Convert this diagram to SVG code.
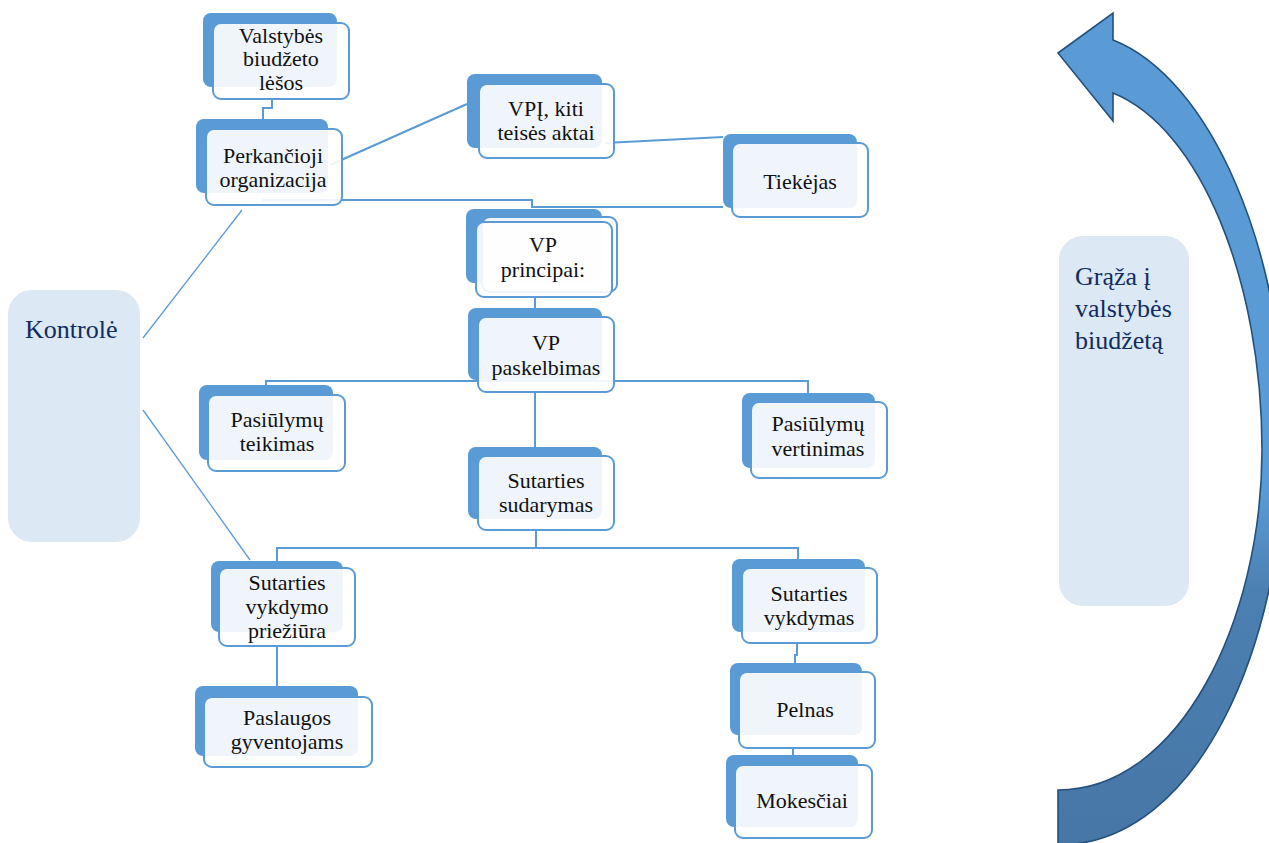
<svg xmlns="http://www.w3.org/2000/svg" width="1269" height="843" viewBox="0 0 1269 843">
  <defs>
    <linearGradient id="arcFill" gradientUnits="userSpaceOnUse" x1="0" y1="0" x2="0" y2="843">
      <stop offset="0" stop-color="#5b9bd5"/>
      <stop offset="0.58" stop-color="#5b9bd5"/>
      <stop offset="0.7" stop-color="#4c80b2"/>
      <stop offset="1" stop-color="#4676a6"/>
    </linearGradient>
    <style>
      .back { fill: #5b9bd5; }
      .front { fill: #ffffff; fill-opacity: 0.9; stroke: #5b9bd5; stroke-width: 2; }
      .lbl { font-size: 22px; fill: #111111; text-anchor: middle; }
      .side { fill: #dde8f5; }
      .sideLbl { font-size: 26px; fill: #102c60; }
      .conn { fill: none; stroke: #5b9bd5; stroke-width: 2; }
      .thin { fill: none; stroke: #5b9bd5; stroke-width: 1.3; }
    </style>
  </defs>
  <rect width="1269" height="843" fill="#ffffff"/>

  <g font-family="'Liberation Serif', 'Times New Roman', serif">

  <!-- return arrow -->
  <g id="return-arrow">
    <path d="M 1058,53 L 1113,13 L 1113,40 C 1210,78 1285,250 1285,440 C 1285,640 1200,845 1058,845 L 1058,790 C 1180,790 1262,620 1262,450 C 1262,280 1200,128 1113,93 L 1113,121 Z" fill="url(#arcFill)" stroke="#24507d" stroke-width="1.6" stroke-linejoin="miter"/>
  </g>

  <g id="kontrole">
    <rect class="side" x="8" y="290" width="132" height="252" rx="24"/>
    <text class="sideLbl" x="25" y="338">Kontrolė</text>
  </g>

  <g id="graza">
    <rect class="side" x="1059" y="236" width="130" height="370" rx="24"/>
    <text class="sideLbl" x="1075" y="285">Grąža į</text>
    <text class="sideLbl" x="1075" y="317">valstybės</text>
    <text class="sideLbl" x="1075" y="349">biudžetą</text>
  </g>

  <!-- connectors, drawn beneath the boxes -->
  <g id="connectors">
    <polyline class="conn" points="272,99 272,108 263,108 263,119"/>
    <line class="conn" x1="330" y1="165" x2="467" y2="104"/>
    <line class="conn" x1="605" y1="143" x2="723" y2="137"/>
    <polyline class="conn" points="262,200 532,200 532,207 723,207"/>
    <line class="conn" x1="535" y1="296" x2="535" y2="309"/>
    <polyline class="conn" points="266,386 266,381 808,381 808,393"/>
    <line class="conn" x1="535" y1="391" x2="535" y2="447"/>
    <polyline class="conn" points="536,530 536,548"/>
    <polyline class="conn" points="277,561 277,548 798,548 798,559"/>
    <line class="conn" x1="277" y1="646" x2="277" y2="686"/>
    <polyline class="conn" points="797,643 797,655 795,655 795,663"/>
    <line class="conn" x1="793" y1="748" x2="793" y2="755"/>
    <line class="thin" x1="143" y1="338" x2="242" y2="210"/>
    <line class="thin" x1="143" y1="410" x2="250" y2="560"/>
  </g>

  <g id="valstybes-lesos">
    <rect class="back" x="203" y="13" width="134" height="74" rx="8"/>
    <rect class="front" x="213" y="23" width="136" height="76" rx="8"/>
    <text class="lbl" x="281" y="43">Valstybės</text>
    <text class="lbl" x="281" y="66">biudžeto</text>
    <text class="lbl" x="281" y="90">lėšos</text>
  </g>

  <g id="perkancioji">
    <rect class="back" x="196" y="119" width="132" height="74" rx="8"/>
    <rect class="front" x="206" y="129" width="136" height="76" rx="8"/>
    <text class="lbl" x="273" y="163">Perkančioji</text>
    <text class="lbl" x="273" y="187">organizacija</text>
  </g>

  <g id="vpi">
    <rect class="back" x="467" y="74" width="135" height="74" rx="8"/>
    <rect class="front" x="479" y="84" width="135" height="74" rx="8"/>
    <text class="lbl" x="546" y="116">VPĮ, kiti</text>
    <text class="lbl" x="546" y="140">teisės aktai</text>
  </g>

  <g id="tiekejas">
    <rect class="back" x="723" y="134" width="134" height="74" rx="8"/>
    <rect class="front" x="732" y="143" width="136" height="74" rx="8"/>
    <text class="lbl" x="800" y="189">Tiekėjas</text>
  </g>

  <g id="vp-principai">
    <rect class="back" x="466" y="209" width="136" height="74" rx="8"/>
    <rect class="front" x="482" y="217" width="135" height="75" rx="8"/>
    <rect class="front" x="476" y="222" width="136" height="75" rx="8"/>
    <text class="lbl" x="543" y="252">VP</text>
    <text class="lbl" x="543" y="277">principai:</text>
  </g>

  <g id="vp-paskelbimas">
    <rect class="back" x="468" y="308" width="134" height="72" rx="8"/>
    <rect class="front" x="478" y="317" width="136" height="75" rx="8"/>
    <text class="lbl" x="546" y="350">VP</text>
    <text class="lbl" x="546" y="375">paskelbimas</text>
  </g>

  <g id="pasiulymu-teikimas">
    <rect class="back" x="199" y="385" width="134" height="75" rx="8"/>
    <rect class="front" x="208" y="395" width="137" height="76" rx="8"/>
    <text class="lbl" x="277" y="427">Pasiūlymų</text>
    <text class="lbl" x="277" y="451">teikimas</text>
  </g>

  <g id="pasiulymu-vertinimas">
    <rect class="back" x="742" y="393" width="133" height="75" rx="8"/>
    <rect class="front" x="751" y="402" width="136" height="76" rx="8"/>
    <text class="lbl" x="818" y="431">Pasiūlymų</text>
    <text class="lbl" x="818" y="456">vertinimas</text>
  </g>

  <g id="sutarties-sudarymas">
    <rect class="back" x="468" y="447" width="134" height="72" rx="8"/>
    <rect class="front" x="478" y="456" width="136" height="74" rx="8"/>
    <text class="lbl" x="546" y="488">Sutarties</text>
    <text class="lbl" x="546" y="512">sudarymas</text>
  </g>

  <g id="vykdymo-prieziura">
    <rect class="back" x="211" y="561" width="132" height="71" rx="8"/>
    <rect class="front" x="219" y="568" width="136" height="78" rx="8"/>
    <text class="lbl" x="287" y="590">Sutarties</text>
    <text class="lbl" x="287" y="614">vykdymo</text>
    <text class="lbl" x="287" y="638">priežiūra</text>
  </g>

  <g id="paslaugos">
    <rect class="back" x="195" y="686" width="163" height="70" rx="8"/>
    <rect class="front" x="204" y="697" width="168" height="70" rx="8"/>
    <text class="lbl" x="287" y="725">Paslaugos</text>
    <text class="lbl" x="287" y="749">gyventojams</text>
  </g>

  <g id="sutarties-vykdymas">
    <rect class="back" x="732" y="559" width="133" height="73" rx="8"/>
    <rect class="front" x="742" y="568" width="135" height="75" rx="8"/>
    <text class="lbl" x="809" y="601">Sutarties</text>
    <text class="lbl" x="809" y="625">vykdymas</text>
  </g>

  <g id="pelnas">
    <rect class="back" x="730" y="663" width="132" height="72" rx="8"/>
    <rect class="front" x="739" y="672" width="136" height="76" rx="8"/>
    <text class="lbl" x="805" y="717">Pelnas</text>
  </g>

  <g id="mokesciai">
    <rect class="back" x="726" y="755" width="132" height="72" rx="8"/>
    <rect class="front" x="735" y="765" width="137" height="73" rx="8"/>
    <text class="lbl" x="802" y="808">Mokesčiai</text>
  </g>

  </g>
</svg>
